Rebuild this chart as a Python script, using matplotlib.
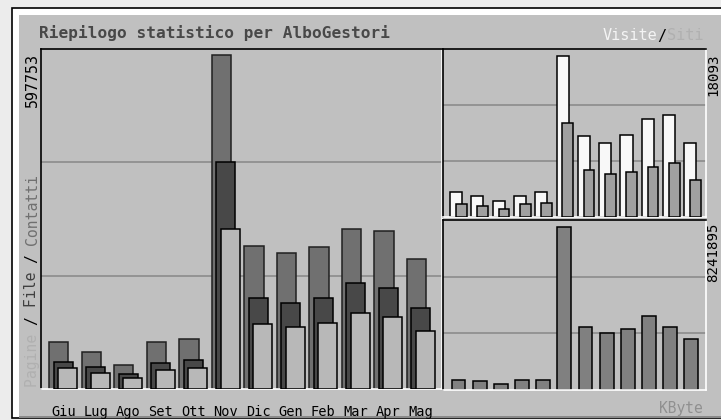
import numpy as np
import matplotlib.pyplot as plt
from matplotlib.patches import Rectangle

W, H = 721, 420

mesi = ["Giu", "Lug", "Ago", "Set", "Ott", "Nov", "Dic", "Gen", "Feb", "Mar", "Apr", "Mag"]

contatti = [84444, 65937, 43120, 84444, 89833, 597753, 256930, 243100, 253870, 286210, 283340, 233030]
file_ = [48510, 40070, 26410, 46710, 51560, 406590, 163500, 154520, 163500, 189910, 180920, 145530]
pagine = [37730, 28750, 19220, 34140, 37730, 286210, 116240, 110850, 119120, 136550, 128100, 104750]

visite = [2760, 2351, 1783, 2351, 2760, 18093, 9052, 8257, 9200, 10938, 11437, 8257]
siti = [1477, 1215, 909, 1477, 1624, 10528, 5304, 4770, 4997, 5565, 6099, 4202]

kbyte = [522800, 451000, 281900, 522800, 522800, 8241895, 3203400, 2895900, 3065000, 3731400, 3203400, 2552500]

MONO = "DejaVu Sans Mono"


def fx(x):
    return x / W


def fy(y):
    return 1 - y / H


def box(x0, y0, x1, y1, **kw):
    # rettangolo in pixel (origine in alto a sinistra), dietro ai pannelli
    r = Rectangle((fx(x0), fy(y1)), fx(x1) - fx(x0), fy(y0) - fy(y1),
                  transform=fig.transFigure, zorder=-10, **kw)
    fig.patches.append(r)


def pannello(x0, y0, x1, y1):
    ax = fig.add_axes([fx(x0), fy(y1), fx(x1) - fx(x0), fy(y0) - fy(y1)])
    ax.set_facecolor("#c0c0c0")
    for s in ax.spines.values():
        s.set_color("black")
        s.set_linewidth(1.2)
    ax.spines["bottom"].set_color("white")
    ax.spines["right"].set_color("white")
    ax.tick_params(left=False, right=False, bottom=False, top=False,
                   labelleft=False, labelbottom=False)
    return ax


def griglia(ax, top):
    for k in (1, 2):
        ax.axhline(top * k / 3, color="#8c8c8c", lw=1.2, zorder=0)


fig = plt.figure(figsize=(W / 100, H / 100), dpi=100)
fig.patch.set_facecolor("#ececec")

# cornice esterna
box(12, 8, 724, 418, facecolor="white", edgecolor="black", lw=1.2)
box(19, 15, 724, 416, facecolor="#c0c0c0", edgecolor="none")
box(19, 416, 724, 418, facecolor="#8a8a8a", edgecolor="none")

x = np.arange(len(mesi))

# pannello principale: Contatti / File / Pagine
ax1 = pannello(41, 49, 442, 389)
top1 = max(contatti) * 340 / 333.7
griglia(ax1, top1)
bw = 0.59
ax1.bar(x, contatti, width=bw, align="edge", color="#707070", edgecolor="#202020", lw=1.1, zorder=2)
ax1.bar(x + 0.135, file_, width=bw, align="edge", color="#484848", edgecolor="black", lw=1.1, zorder=3)
ax1.bar(x + 0.27, pagine, width=bw, align="edge", color="#b8b8b8", edgecolor="black", lw=1.1, zorder=4)
ax1.set_xlim(-0.255, 12.08)
ax1.set_ylim(0, top1)
ax1.set_xticks(x + 0.43)
ax1.set_xticklabels(mesi, family=MONO, fontsize=9.8, color="black")
ax1.tick_params(labelbottom=True, pad=8)

# pannello visite / siti
ax2 = pannello(443, 49, 706, 217)
top2 = max(visite) * 168 / 161.3
griglia(ax2, top2)
ax2.bar(x, visite, width=0.57, align="edge", color="#f8f8f8", edgecolor="black", lw=1.1, zorder=2)
ax2.bar(x + 0.28, siti, width=0.5, align="edge", color="#a0a0a0", edgecolor="black", lw=1.1, zorder=3)
ax2.set_xlim(-0.33, 12.02)
ax2.set_ylim(0, top2)

# pannello KByte
ax3 = pannello(443, 220, 706, 390)
top3 = max(kbyte) * 170 / 163.3
griglia(ax3, top3)
ax3.bar(x, kbyte, width=0.65, align="edge", color="#808080", edgecolor="black", lw=1.1, zorder=2)
ax3.set_xlim(-0.41, 12.02)
ax3.set_ylim(0, top3)

# testi
fig.text(fx(39), fy(33), "Riepilogo statistico per AlboGestori", family=MONO,
         fontweight="bold", fontsize=11.6, color="#484848", va="center", ha="left")

fig.text(fx(32), fy(53), str(max(contatti)), family=MONO, fontsize=10.8,
         rotation=90, ha="center", va="top", color="black")
fig.text(fx(713), fy(53), str(max(visite)), family=MONO, fontsize=10.2,
         rotation=90, ha="center", va="top", color="black")
fig.text(fx(713), fy(222), str(max(kbyte)), family=MONO, fontsize=10.2,
         rotation=90, ha="center", va="top", color="black")

# legenda verticale a sinistra (carattere a spaziatura fissa)
fs = 10.6
cw = 0.602 * fs * 100 / 72
pezzi = [("Pagine ", "#b0b0b0"), ("/ ", "black"), ("File ", "#404040"),
         ("/ ", "black"), ("Contatti", "#707070")]
pos = 387
for t, c in pezzi:
    fig.text(fx(32), fy(pos), t, family=MONO, fontsize=fs, rotation=90,
             ha="center", va="bottom", color=c)
    pos -= len(t) * cw

# legenda in alto a destra
fs2 = 11
cw2 = 0.602 * fs2 * 100 / 72
pezzi2 = [("Siti", "#b0b0b0"), ("/", "black"), ("Visite", "#f4f4f4")]
pos = 703
for t, c in pezzi2:
    fig.text(fx(pos), fy(36), t, family=MONO, fontsize=fs2, ha="right",
             va="center", color=c)
    pos -= len(t) * cw2

fig.text(fx(703), fy(408), "KByte", family=MONO, fontsize=10.5, ha="right",
         va="center", color="#909090")

fig.savefig("out.png", dpi=100, facecolor=fig.get_facecolor())
